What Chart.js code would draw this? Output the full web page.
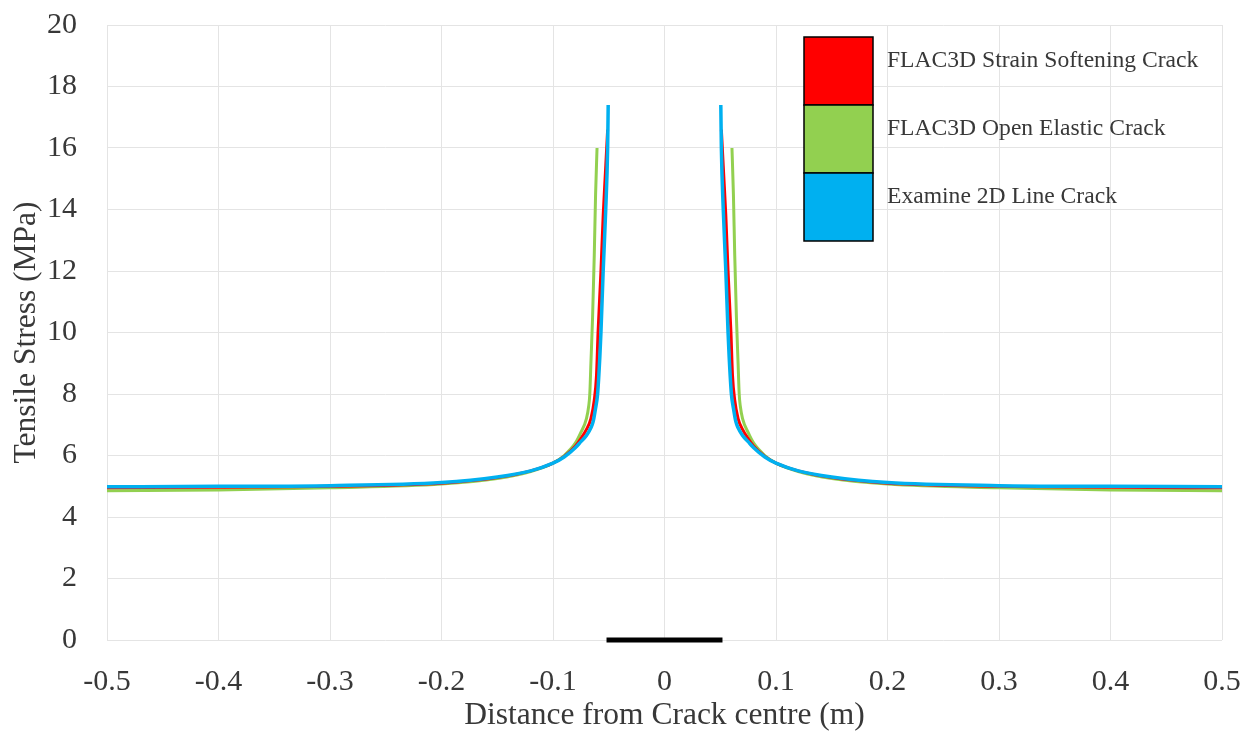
<!DOCTYPE html>
<html>
<head>
<meta charset="utf-8">
<script src="https://cdn.jsdelivr.net/npm/chart.js@4/dist/chart.umd.min.js"></script>
<style>
  html, body { margin: 0; padding: 0; background: #fff; }
  #wrap { position: relative; width: 1252px; height: 735px; }
</style>
</head>
<body>
<div id="wrap"><canvas id="myChart"></canvas></div>
<script>
// values (x in m, y in MPa); null splits left/right branches
const softX = [-0.5, -0.4, -0.3, -0.2, -0.15, -0.12, -0.1, -0.09, -0.08, -0.075, -0.07, -0.066, -0.063, -0.061, -0.0596, -0.057, -0.055, -0.053, -0.051,
  0, 0.051, 0.053, 0.055, 0.057, 0.0596, 0.061, 0.063, 0.066, 0.07, 0.075, 0.08, 0.09, 0.1, 0.12, 0.15, 0.2, 0.3, 0.4, 0.5]
const softY = [4.95, 4.97, 5.0, 5.1, 5.28, 5.5, 5.75, 5.97, 6.3, 6.55, 6.85, 7.2, 7.8, 8.6, 10.0, 12.0, 13.8, 15.2, 16.6,
  null, 16.6, 15.2, 13.8, 12.0, 10.0, 8.6, 7.8, 7.2, 6.85, 6.55, 6.3, 5.97, 5.75, 5.5, 5.28, 5.1, 5.0, 4.97, 4.95]

const openX = [-0.5, -0.4, -0.3, -0.2, -0.15, -0.12, -0.1, -0.09, -0.08, -0.075, -0.07, -0.068, -0.067, -0.066, -0.0645, -0.063, -0.0618, -0.0605,
  0, 0.0605, 0.0618, 0.063, 0.0645, 0.066, 0.067, 0.068, 0.07, 0.075, 0.08, 0.09, 0.1, 0.12, 0.15, 0.2, 0.3, 0.4, 0.5]
const openY = [4.85, 4.88, 4.95, 5.07, 5.25, 5.48, 5.75, 6.0, 6.4, 6.75, 7.2, 7.6, 8.0, 9.0, 10.5, 12.5, 14.5, 16.0,
  null, 16.0, 14.5, 12.5, 10.5, 9.0, 8.0, 7.6, 7.2, 6.75, 6.4, 6.0, 5.75, 5.48, 5.25, 5.07, 4.95, 4.88, 4.85]

const lineX = [-0.5, -0.4, -0.3, -0.2, -0.15, -0.12, -0.1, -0.09, -0.08, -0.075, -0.07, -0.066, -0.064, -0.062, -0.06, -0.058, -0.057, -0.055, -0.0527, -0.051, -0.0505,
  0, 0.0505, 0.051, 0.0527, 0.055, 0.057, 0.058, 0.06, 0.062, 0.064, 0.066, 0.07, 0.075, 0.08, 0.09, 0.1, 0.12, 0.15, 0.2, 0.3, 0.4, 0.5]
const lineY = [4.98, 5.0, 5.02, 5.12, 5.3, 5.5, 5.75, 5.95, 6.25, 6.45, 6.65, 6.9, 7.1, 7.5, 8.0, 9.2, 10.0, 12.0, 14.0, 16.0, 17.4,
  null, 17.4, 16.0, 14.0, 12.0, 10.0, 9.2, 8.0, 7.5, 7.1, 6.9, 6.65, 6.45, 6.25, 5.95, 5.75, 5.5, 5.3, 5.12, 5.02, 5.0, 4.98]

// the crack itself, drawn on the x axis
const crackX = [-0.052, 0.052]
const crackY = [0, 0]

const seriesNames = ['FLAC3D Strain Softening Crack', 'FLAC3D Open Elastic Crack', 'Examine 2D Line Crack']
const seriesColors = ['#FF0000', '#92D050', '#00B0F0']

const pts = (xs, ys) => xs.map((x, i) => ({ x: x, y: ys[i] }))

const serif = '"Liberation Serif", "Times New Roman", serif'
const textColor = '#383838'

// stacked colour-block legend in the top right
const blockLegend = {
  id: 'blockLegend',
  afterDraw(chart) {
    const ctx = chart.ctx
    const left = 804, top = 37, w = 69, h = 68
    ctx.save()
    seriesNames.forEach((name, i) => {
      const y = top + i * h
      ctx.fillStyle = seriesColors[i]
      ctx.fillRect(left, y, w, h)
      ctx.strokeStyle = '#000'
      ctx.lineWidth = 1.5
      ctx.strokeRect(left, y, w, h)
      ctx.fillStyle = textColor
      ctx.font = '23.6px ' + serif
      ctx.textBaseline = 'middle'
      ctx.fillText(name, left + w + 14, y + 24)
    })
    ctx.restore()
  }
}

// keep the plot area fixed: labels may hang over the padding
const noOverhang = scale => {
  scale.paddingTop = 0; scale.paddingBottom = 0
  scale.paddingLeft = 0; scale.paddingRight = 0
}

const ctx = document.getElementById('myChart')
new Chart(ctx, {
  type: 'scatter',
  data: {
    datasets: [
      { label: 'crack', data: pts(crackX, crackY), showLine: true, borderColor: '#000', borderWidth: 5,
        pointRadius: 0, clip: false, order: 0 },
      { label: seriesNames[2], data: pts(lineX, lineY), showLine: true, borderColor: seriesColors[2], borderWidth: 3.5,
        pointRadius: 0, spanGaps: false, cubicInterpolationMode: 'monotone', order: 1 },
      { label: seriesNames[0], data: pts(softX, softY), showLine: true, borderColor: seriesColors[0], borderWidth: 3,
        pointRadius: 0, spanGaps: false, cubicInterpolationMode: 'monotone', order: 2 },
      { label: seriesNames[1], data: pts(openX, openY), showLine: true, borderColor: seriesColors[1], borderWidth: 3,
        pointRadius: 0, spanGaps: false, cubicInterpolationMode: 'monotone', order: 3 }
    ]
  },
  options: {
    responsive: true,
    maintainAspectRatio: false,
    animation: false,
    layout: { padding: { top: 25, right: 30, left: 0, bottom: 0 } },
    plugins: { legend: { display: false }, tooltip: { enabled: false } },
    scales: {
      x: {
        type: 'linear', min: -0.5, max: 0.5,
        afterFit(scale) { scale.height = 95; noOverhang(scale) },
        border: { display: false },
        grid: { color: '#e4e4e4', drawTicks: false },
        ticks: {
          stepSize: 0.1, padding: 24, color: textColor,
          font: { family: serif, size: 30 },
          callback: v => { const r = Math.round(v * 10) / 10; return r === 0 ? '0' : r.toFixed(1) }
        },
        title: { display: true, text: 'Distance from Crack centre (m)', color: textColor,
          font: { family: serif, size: 31.5 }, padding: { top: 0, bottom: 0 } }
      },
      y: {
        min: 0, max: 20,
        afterFit(scale) { scale.width = 107; noOverhang(scale) },
        border: { display: false },
        grid: { color: '#e4e4e4', drawTicks: false },
        ticks: { stepSize: 2, padding: 30, color: textColor, font: { family: serif, size: 30 } },
        title: { display: true, text: 'Tensile Stress (MPa)', color: textColor,
          font: { family: serif, size: 31.5 }, padding: { top: 8, bottom: 0 } }
      }
    }
  },
  plugins: [blockLegend]
})
</script>
</body>
</html>
